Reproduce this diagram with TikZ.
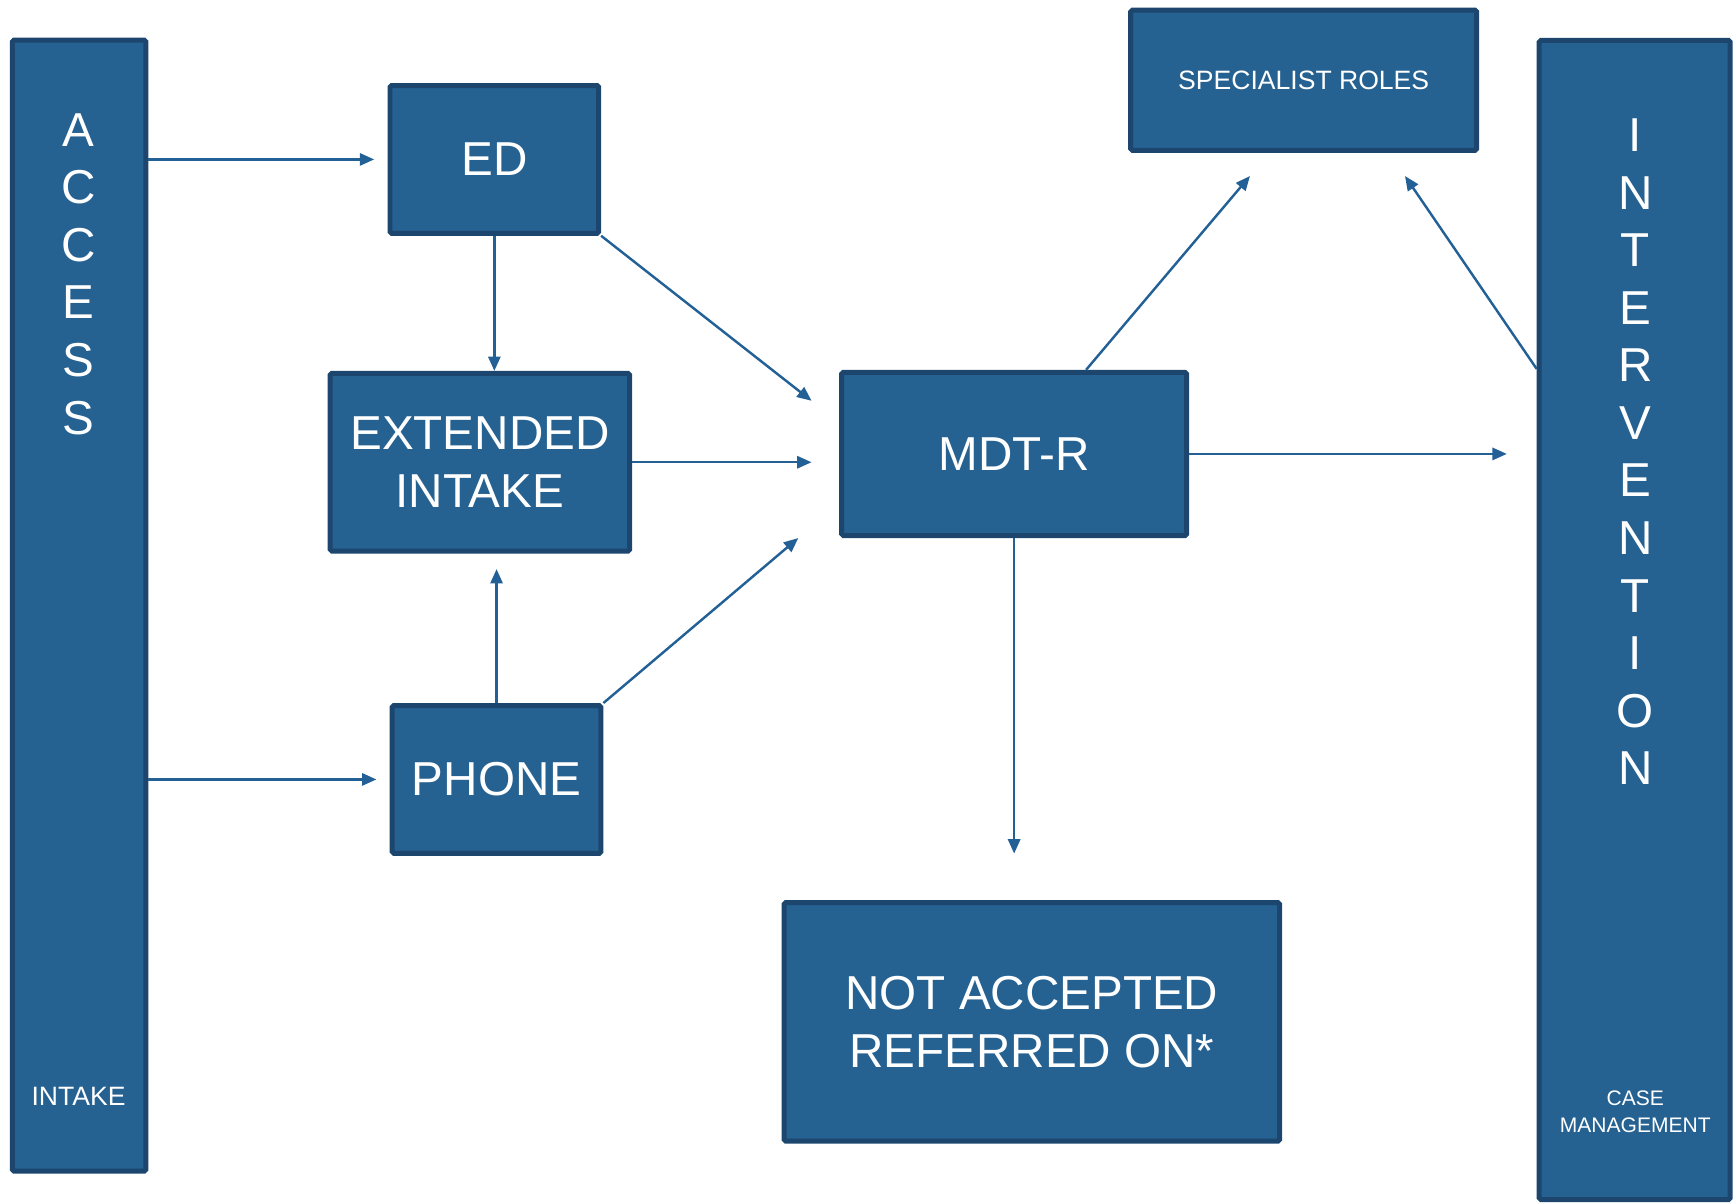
\documentclass[tikz,border=0pt]{standalone}
\usepackage{fontspec}
\setmainfont{Liberation Sans}
\usetikzlibrary{arrows.meta}

\definecolor{boxfill}{RGB}{37,97,145}
\definecolor{boxline}{RGB}{28,70,110}
\definecolor{linkcol}{RGB}{34,96,150}

\tikzset{
  box/.style={draw=boxline, fill=boxfill, line width=4.5pt, rounded corners=1.5pt,
    inner sep=0pt, text=white, align=center, font=\fontsize{43}{52}\selectfont},
  bigtxt/.style={text=white, align=center, inner sep=0pt, font=\fontsize{43}{52}\selectfont},
  smalltxt/.style={text=white, align=center, inner sep=0pt, font=\fontsize{24}{29}\selectfont},
  tinytxt/.style={text=white, align=center, inner sep=0pt, font=\fontsize{19}{24}\selectfont},
  link/.style={draw=linkcol, line width=2.2pt, -{Triangle[length=13pt,width=11pt]}},
}

\begin{document}
\begin{tikzpicture}[x=1pt, y=-1pt]
  \useasboundingbox (0,0) rectangle (1568,1086);

  % side bars
  \node[box, minimum width=120.5pt, minimum height=1021.5pt] (access) at (71.5,547) {};
  \node[box, minimum width=172.5pt, minimum height=1047pt] (interv) at (1476.5,560) {};
  \node[bigtxt] (accesstxt) at (71,247.5) {A\\C\\C\\E\\S\\S};
  \node[smalltxt] (intaketxt) at (71,990) {INTAKE};
  \node[bigtxt] (intervtxt) at (1477,408) {I\\N\\T\\E\\R\\V\\E\\N\\T\\I\\O\\N};
  \node[tinytxt] (casetxt) at (1477,1004) {CASE\\MANAGEMENT};

  % process boxes
  \node[box, minimum width=188.5pt, minimum height=133.5pt] (ed) at (446.5,144) {ED};
  \node[box, minimum width=270.5pt, minimum height=160.5pt] (ext) at (433.5,417.5) {EXTENDED\\INTAKE};
  \node[box, minimum width=188.5pt, minimum height=133.5pt] (phone) at (448.5,704) {PHONE};
  \node[box, minimum width=311.5pt, minimum height=147.5pt] (mdt) at (916,410) {MDT-R};
  \node[box, minimum width=312.5pt, minimum height=126.5pt, font=\fontsize{24}{29}\selectfont] (spec) at (1177.5,72.5) {SPECIALIST ROLES};
  \node[box, minimum width=447.5pt, minimum height=215.5pt] (notacc) at (932,923) {NOT ACCEPTED\\REFERRED ON*};

  % free arrow ends
  \coordinate (mdtinA) at (733,362);
  \coordinate (mdtinB) at (721,486);
  \coordinate (specinA) at (1129,159);
  \coordinate (specinB) at (1269,159);

  % connectors
  \draw[link, shorten >=12pt] (access.east |- ed.west) -- (ed.west);
  \draw[link, shorten >=12pt] (access.east |- phone.west) -- (phone.west);
  \draw[link] (ed.south) -- (ed.south |- ext.north);
  \draw[link] (ed.south east) -- (mdtinA);
  \draw[link, shorten >=25pt] (ext.east) -- (ext.east -| mdt.west);
  \draw[link, shorten >=14pt] (phone.north) -- (phone.north |- ext.south);
  \draw[link] (phone.north east) -- (mdtinB);
  \draw[link] ([xshift=65pt]mdt.north) -- (specinA);
  \draw[link] ([yshift=-299pt]interv.north west) -- (specinB);
  \draw[link, shorten >=27pt] (mdt.east) -- (mdt.east -| interv.west);
  \draw[link, shorten >=42pt] (mdt.south) -- (mdt.south |- notacc.north);
\end{tikzpicture}
\end{document}
